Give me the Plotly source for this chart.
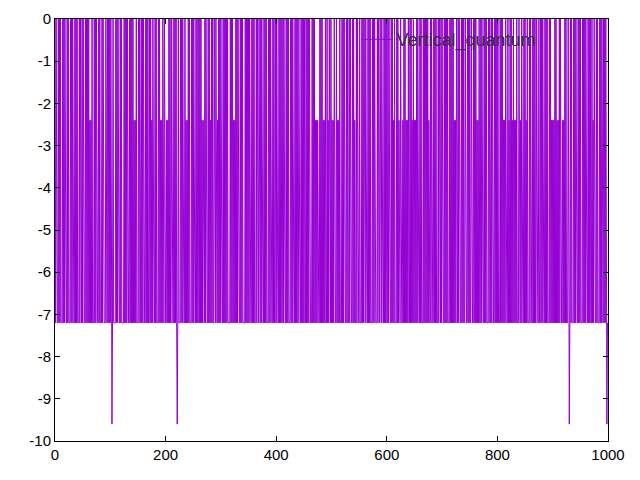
import plotly.graph_objects as go

# level codes: '0' -> 0, '1' -> -2.4, '3' -> -7.2, '4' -> -9.6
code_rows = [
    "0303330303 0333030303 3303033303 0303330303 0333030330",
    "3033303030 3031313033 3030303330 3033303033 3303303030",
    "3034303333 0303033303 0333303030 3033303030 3031313033",
    "3030330303 0333030303 3030313033 3030333030 3131303303",
    "3313130303 3033303030 3430333030 3033303131 3030333030",
    "3033303033 0303031313 3030333030 3130303303 3033130303",
    "0333030303 0303333030 3031313030 3033303030 3333030303",
    "0303330303 0333030330 3303033303 0303330303 0333030330",
    "3033303030 3303033303 0303330303 0333030303 3033303030",
    "3033030303 0333303030 3131313330 3030313130 3303130330",
    "3131303330 3131303330 3030333030 3303033303 0313303033",
    "3033303030 3303330303 0333030303 3330303303 3033303030",
    "3303033303 0313033303 0313303331 3030313130 3303031303",
    "1313030333 0303330303 0303031330 3033303030 3330303303",
    "0333030303 0333030303 0313130330 3033303030 3303330303",
    "0330333030 3031313033 0303330303 0333030330 3033303030",
    "3033303030 3131303330 3130303130 3131303330 1313033303",
    "0313033303 0333030303 3033303303 0303330303 0333030313",
    "1313030313 1303033313 1303033303 4303033303 0303330303",
    "0333030303 0333030303 3031303330 3033303030 3303030343",
]
level_values = {"0": 0.0, "1": -2.4, "3": -7.2, "4": -9.6}

codes = "".join(r.replace(" ", "") for r in code_rows)
y_values = [level_values[c] for c in codes]
x_values = list(range(len(y_values)))

series_name = "Vertical_quantum"
x_ticks = [0, 200, 400, 600, 800, 1000]
x_tick_labels = ["0", "200", "400", "600", "800", "1000"]
y_ticks = [0, -1, -2, -3, -4, -5, -6, -7, -8, -9, -10]
y_tick_labels = ["0", "-1", "-2", "-3", "-4", "-5", "-6", "-7", "-8", "-9", "-10"]

fig = go.Figure()
fig.add_trace(go.Scatter(
    x=x_values, y=y_values, mode="lines", name=series_name,
    line=dict(color="#9400D3", width=1),
))

font_family = "Liberation Sans, Arial, sans-serif"
axis_common = dict(
    showgrid=False, zeroline=False, showline=True, linecolor="black",
    linewidth=1, mirror="ticks", ticks="inside", ticklen=5, tickcolor="black",
    automargin=False,
    tickfont=dict(family=font_family, size=15, color="black"),
)
fig.update_layout(
    width=640, height=480,
    margin=dict(l=47, r=40, t=11, b=47),
    paper_bgcolor="white", plot_bgcolor="white",
    showlegend=True,
    legend=dict(
        x=0.545, y=0.995, xanchor="left", yanchor="top",
        bgcolor="rgba(0,0,0,0)", borderwidth=0,
        font=dict(family=font_family, size=18, color="#333333"),
    ),
    xaxis=dict(range=[0, 1000], tickvals=x_ticks, ticktext=x_tick_labels, **axis_common),
    yaxis=dict(range=[-10, 0], tickvals=y_ticks, ticktext=y_tick_labels, **axis_common),
)

fig.write_html("out.html")
